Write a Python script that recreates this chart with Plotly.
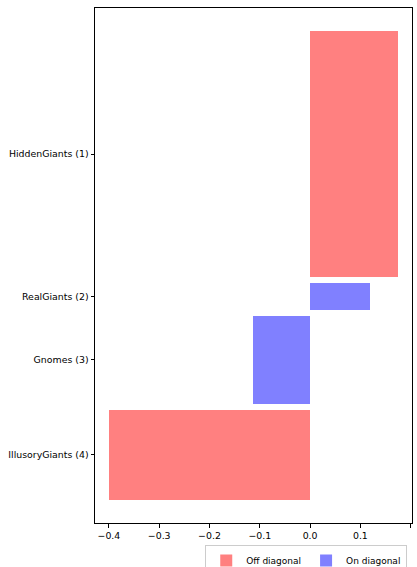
import plotly.graph_objects as go

# Groups, their signed differences and their share of the total (bar thickness)
groups = ["HiddenGiants (1)", "RealGiants (2)", "Gnomes (3)", "IllusoryGiants (4)"]
differences = [0.174, 0.119, -0.113, -0.399]
shares = [0.545, 0.06, 0.195, 0.2]
diagonal = ["Off diagonal", "On diagonal", "On diagonal", "Off diagonal"]

colors = {"Off diagonal": "#ff8080", "On diagonal": "#8080ff"}
gap = 0.0135

# stack the bars top to bottom, each as thick as its share
centers = []
pos = 0.0
for s in shares:
    centers.append(pos + s / 2)
    pos += s + gap
total = pos - gap
pad = 0.05 * total

fig = go.Figure()
for kind in ["Off diagonal", "On diagonal"]:
    idx = [i for i, d in enumerate(diagonal) if d == kind]
    fig.add_trace(go.Bar(
        x=[differences[i] for i in idx],
        y=[centers[i] for i in idx],
        width=[shares[i] for i in idx],
        orientation="h",
        name=kind,
        marker=dict(color=colors[kind], line=dict(width=0)),
    ))

xmin = min(differences + [0])
xmax = max(differences + [0])
xpad = 0.05 * (xmax - xmin)

axis_common = dict(
    showline=True, linecolor="black", linewidth=1, mirror=True,
    ticks="outside", ticklen=3.5, tickwidth=1, tickcolor="black",
    showgrid=False, zeroline=False,
    tickfont=dict(family="DejaVu Sans", size=9.4, color="black"),
)

fig.update_layout(
    width=417, height=567,
    margin=dict(l=95, r=5, t=8, b=44),
    plot_bgcolor="white", paper_bgcolor="white",
    bargap=0,
    barmode="overlay",
    showlegend=True,
    legend=dict(
        orientation="h",
        xref="paper", yref="container",
        x=0.985, xanchor="right",
        y=22 / 567, yanchor="top",
        bordercolor="#cccccc", borderwidth=1,
        font=dict(family="DejaVu Sans", size=9, color="black"),
        tracegroupgap=0,
    ),
    xaxis=dict(
        range=[xmin - xpad, xmax + xpad],
        tickvals=[-0.4, -0.3, -0.2, -0.1, 0.0, 0.1, 0.2],
        ticktext=["\u22120.4", "\u22120.3", "\u22120.2", "\u22120.1", "0.0", "0.1", "0.2"],
        **axis_common,
    ),
    yaxis=dict(
        range=[total + pad, -pad],
        tickvals=centers,
        ticktext=groups,
        **axis_common,
    ),
)

fig.write_html("out.html")
